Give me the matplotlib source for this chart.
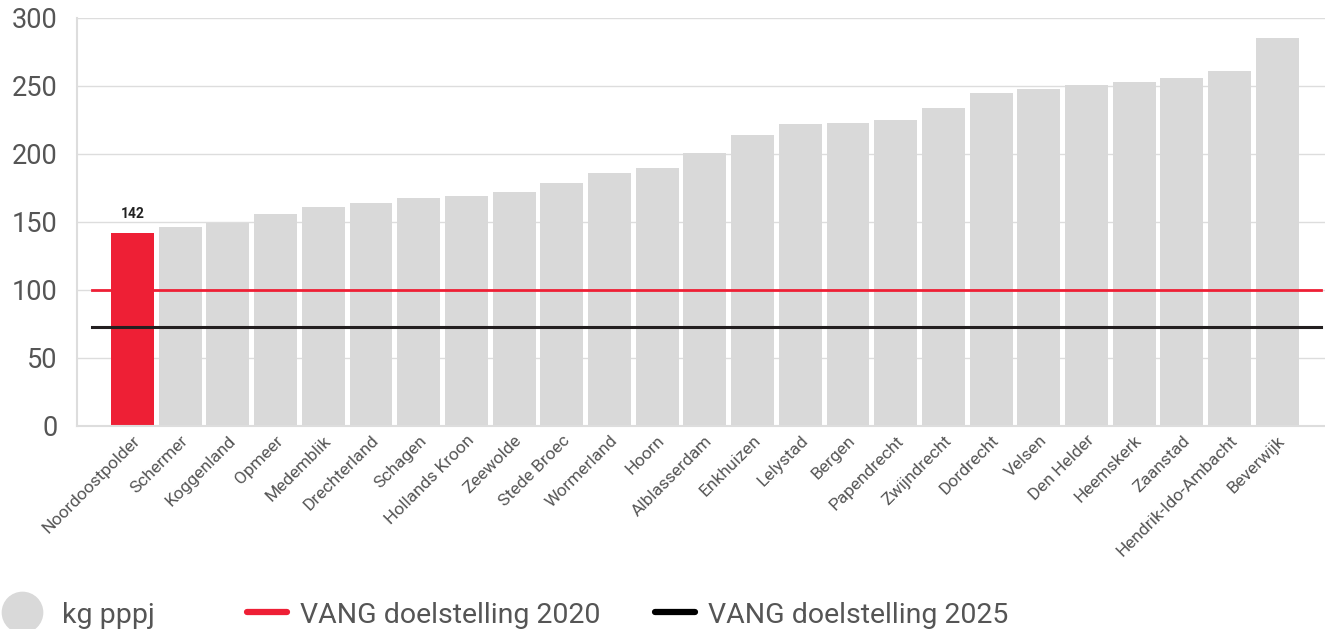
import matplotlib.pyplot as plt
from matplotlib.lines import Line2D

plt.rcParams["font.family"] = ["Roboto", "DejaVu Sans"]

gemeenten = [
    "Noordoostpolder", "Schermer", "Koggenland", "Opmeer", "Medemblik",
    "Drechterland", "Schagen", "Hollands Kroon", "Zeewolde", "Stede Broec",
    "Wormerland", "Hoorn", "Alblasserdam", "Enkhuizen", "Lelystad",
    "Bergen", "Papendrecht", "Zwijndrecht", "Dordrecht", "Velsen",
    "Den Helder", "Heemskerk", "Zaanstad", "Hendrik-Ido-Ambacht", "Beverwijk",
]
kg_pppj = [142, 146, 149, 156, 161, 164, 168, 169, 172, 179,
           186, 190, 201, 214, 222, 223, 225, 234, 245, 248,
           251, 253, 256, 261, 285]
doel_2020 = 100
doel_2025 = 73
highlight = "Noordoostpolder"

red = "#ee1f35"
grey_bar = "#d9d9d9"
text_col = "#555555"

fig = plt.figure(figsize=(13.25, 6.29), dpi=100)
ax = fig.add_axes([77 / 1325, 203 / 629, 1 - 77 / 1325, 408 / 629])

x = list(range(len(gemeenten)))
colors = [red if g == highlight else grey_bar for g in gemeenten]
ax.bar(x, kg_pppj, width=0.9, color=colors, zorder=2)

ax.axhline(doel_2020, xmin=0.012, xmax=0.997, color=red, lw=2, zorder=3)
ax.axhline(doel_2025, xmin=0.012, xmax=0.997, color="#231f20", lw=2.2, zorder=3)

i = gemeenten.index(highlight)
ax.text(i, kg_pppj[i] + 9, str(kg_pppj[i]), ha="center", va="bottom",
        fontsize=10, fontweight="bold", color="#222222")

ax.set_xlim(-1.164, 25.0)
ax.set_ylim(0, 300)
ax.set_yticks([0, 50, 100, 150, 200, 250, 300])
ax.grid(axis="y", color="#dddddd", lw=1, zorder=0)
ax.set_axisbelow(True)

ax.set_xticks(x)
ax.set_xticklabels(gemeenten, rotation=45, ha="right", rotation_mode="anchor",
                   fontsize=12.5, color=text_col)
ax.tick_params(axis="x", length=0, pad=5)
ax.tick_params(axis="y", length=0, pad=14, labelsize=19.5, labelcolor=text_col)

for s in ["top", "right"]:
    ax.spines[s].set_visible(False)
for s in ["left", "bottom"]:
    ax.spines[s].set_color("#dddddd")
    ax.spines[s].set_linewidth(1.5)

# legend at the bottom
ly = (629 - 612) / 629
fig.add_artist(Line2D([22 / 1325], [ly], marker="o", markersize=29,
                      color=grey_bar, lw=0, transform=fig.transFigure))
fig.text(62 / 1325, 0.009, "kg pppj", fontsize=20.5, color=text_col, va="baseline")
fig.add_artist(Line2D([247 / 1325, 287 / 1325], [ly, ly], color=red, lw=4.5,
                      solid_capstyle="round", transform=fig.transFigure))
fig.text(300 / 1325, 0.009, "VANG doelstelling 2020", fontsize=20.5,
         color=text_col, va="baseline")
fig.add_artist(Line2D([655 / 1325, 695 / 1325], [ly, ly], color="black", lw=4.5,
                      solid_capstyle="round", transform=fig.transFigure))
fig.text(708 / 1325, 0.009, "VANG doelstelling 2025", fontsize=20.5,
         color=text_col, va="baseline")

fig.savefig("out.png", dpi=100)
